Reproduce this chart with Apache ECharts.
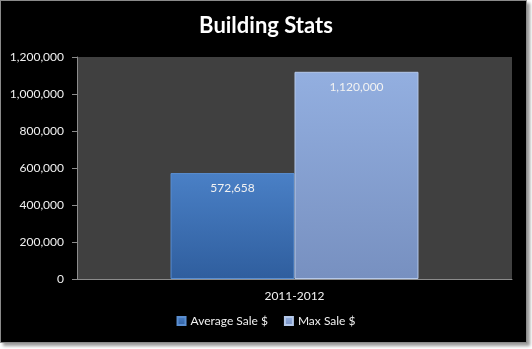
<!DOCTYPE html>
<html><head><meta charset="utf-8">
<script src="https://cdn.jsdelivr.net/npm/echarts@6/dist/echarts.min.js"></script>
<style>
html,body{margin:0;padding:0;background:#fff;width:532px;height:349px;overflow:hidden}
#frame{position:absolute;left:0;top:0;width:525px;height:341px;background:#000;border:1px solid #8a8a8a;box-shadow:3px 3px 3px #9a9a9a}
#c{position:absolute;left:0;top:0;width:532px;height:349px}
</style></head>
<body><div id="frame"></div><div id="c"></div>
<script>
const categories = ['2011-2012'];
const seriesNames = ['Average Sale $', 'Max Sale $'];
const averageSale = [572658];
const maxSale = [1120000];

const chart = echarts.init(document.getElementById('c'), null, {renderer:'canvas'});
const fmt = v => v.toLocaleString('en-US');
const FONT = 'Lato, "Open Sans", sans-serif';
const lbl = {show:true, position:'insideTop', distance:9, color:'#f2f2f2', fontSize:12, fontFamily:FONT, formatter: p => fmt(p.value)};
chart.setOption({
  backgroundColor:'transparent',
  title:{text:'Building Stats', left:'center', top:10, textStyle:{color:'#ffffff', fontSize:22, fontWeight:'bold', fontFamily:FONT}},
  legend:{bottom:17, left:'center', icon:'rect', itemWidth:8, itemHeight:8, itemGap:16,
    textStyle:{color:'#f0f0f0', fontSize:12, fontFamily:FONT}, data:seriesNames},
  grid:{left:77, right:20, top:57, bottom:70, show:true, backgroundColor:'#404040', borderWidth:0},
  xAxis:{type:'category', data:categories, axisLine:{lineStyle:{color:'#8c8c8c'}}, axisTick:{show:false},
    axisLabel:{color:'#f0f0f0', fontSize:12, margin:11, fontFamily:FONT}},
  yAxis:{type:'value', min:0, max:1200000, interval:200000, axisLine:{show:true, lineStyle:{color:'#8c8c8c'}},
    axisTick:{show:true, length:5, lineStyle:{color:'#8c8c8c'}}, splitLine:{show:false},
    axisLabel:{color:'#f0f0f0', fontSize:12, margin:13, formatter: v => fmt(v), fontFamily:FONT}},
  series:[
    {name:seriesNames[0], type:'bar', data:averageSale, barGap:'0%', barCategoryGap:'43%', label:lbl,
     itemStyle:{borderColor:'#5a8ed0', borderWidth:1, color:new echarts.graphic.LinearGradient(0,0,0,1,[{offset:0,color:'#4a80c6'},{offset:1,color:'#2f5e9e'}])}},
    {name:seriesNames[1], type:'bar', data:maxSale, label:lbl,
     itemStyle:{borderColor:'#b4c8ea', borderWidth:1, color:new echarts.graphic.LinearGradient(0,0,0,1,[{offset:0,color:'#93afe0'},{offset:1,color:'#7790c0'}])}}
  ]
});
</script></body></html>
